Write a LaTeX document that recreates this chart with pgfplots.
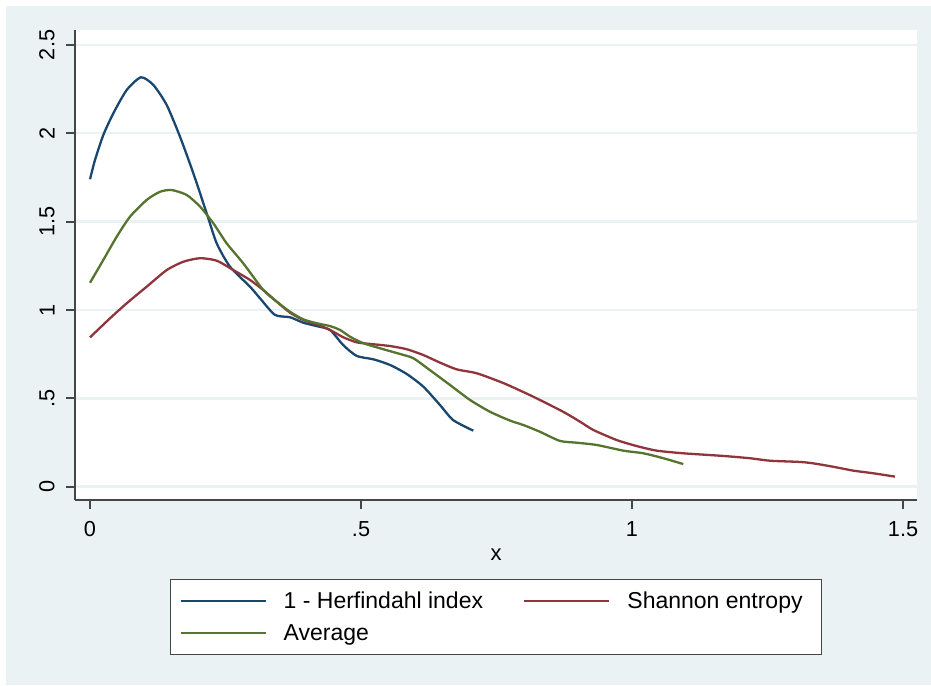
\documentclass[border=0pt]{standalone}
\usepackage{fontspec}
\setmainfont{Liberation Sans}
\usepackage{pgfplots}
\pgfplotsset{compat=1.18}
\definecolor{bg}{RGB}{234,242,243}
\definecolor{gridc}{RGB}{234,242,243}
\definecolor{sblue}{RGB}{26,71,111}
\definecolor{sred}{RGB}{144,53,59}
\definecolor{sgreen}{RGB}{85,117,47}
\definecolor{axc}{RGB}{70,70,70}
\begin{document}
\begin{tikzpicture}
\fill[white] (0pt,0pt) rectangle (465.5pt,342.5pt);
\fill[bg] (3pt,0pt) rectangle (465.5pt,339.5pt);
\begin{axis}[
  at={(37.5pt,92.5pt)}, anchor=south west,
  scale only axis, width=421pt, height=235pt,
  xmin=-0.0277, xmax=1.5258, ymin=-0.0753, ymax=2.5846,
  axis x line*=bottom, axis y line*=left,
  axis line style={axc, line width=0.9pt},
  axis background/.style={fill=white},
  xtick={0,0.5,1,1.5}, xticklabels={0,.5,1,1.5},
  ytick={0,0.5,1,1.5,2,2.5}, yticklabels={0,.5,1,1.5,2,2.5},
  tick align=outside, major tick length=4.5pt,
  tick style={axc, line width=0.9pt},
  ymajorgrids, grid style={gridc, line width=1.2pt},
  /pgf/number format/assume math mode=true,
  tick label style={font=\fontsize{10.85pt}{12pt}\selectfont},
  yticklabel style={xshift=-5.5pt, rotate=90, anchor=south, inner sep=0pt},
  xticklabel style={anchor=north, inner sep=0pt, yshift=-6pt},
  xlabel={x},
  xlabel style={at={(axis description cs:0.5,0)}, anchor=base, yshift=-30pt, font=\fontsize{11pt}{13pt}\selectfont},
  legend columns=2,
  legend image code/.code={\path[draw=none,fill=none] (0pt,0pt) rectangle (0.01pt,5pt); \draw[#1] (0pt,0pt) -- (42.5pt,0pt);},
  legend style={at={(axis description cs:0.5,-0.168)}, anchor=north,
    draw=axc, line width=0.6pt, fill=white,
    font=\fontsize{11.5pt}{13pt}\selectfont,
    inner xsep=4.5pt, inner ysep=4.25pt,
    row sep=3pt,
    nodes={inner sep=0pt, text height=10pt, text depth=3pt},
    /tikz/every odd column/.append style={column sep=8.5pt},
    /tikz/every even column/.append style={column sep=20pt}},
  legend cell align=left,
  every axis plot/.append style={line width=1.15pt, smooth, tension=0.4},
]
\addplot[sblue] coordinates {
(0,1.740) (0.0092,1.849) (0.0245,1.990) (0.043,2.113) (0.0677,2.245) (0.094,2.317)
(0.117,2.273) (0.1415,2.160) (0.166,1.981) (0.1906,1.774) (0.2153,1.547) (0.2338,1.377)
(0.2583,1.245) (0.2952,1.132) (0.3137,1.066) (0.3413,0.972) (0.369,0.959) (0.3935,0.928)
(0.418,0.909) (0.4428,0.887) (0.467,0.802) (0.492,0.740) (0.5227,0.721) (0.5535,0.689)
(0.5843,0.638) (0.615,0.566) (0.6458,0.462) (0.670,0.377) (0.7072,0.317)
};
\addlegendentry{1 - Herfindahl index}
\addplot[sred] coordinates {
(0,0.845) (0.0369,0.953) (0.0677,1.038) (0.1046,1.132) (0.1415,1.226) (0.172,1.273)
(0.203,1.293) (0.2338,1.279) (0.2644,1.226) (0.2952,1.170) (0.3197,1.113) (0.3445,1.047)
(0.369,0.985) (0.3935,0.943) (0.418,0.919) (0.4428,0.887) (0.467,0.846) (0.492,0.817)
(0.5166,0.808) (0.5535,0.796) (0.5843,0.778) (0.615,0.745) (0.6458,0.702) (0.6766,0.664)
(0.7135,0.642) (0.7565,0.594) (0.775,0.570) (0.818,0.509) (0.873,0.424) (0.904,0.368)
(0.9286,0.321) (0.9718,0.264) (1.0087,0.230) (1.0456,0.204) (1.0946,0.189) (1.1685,0.174)
(1.2177,0.161) (1.2546,0.147) (1.31,0.140) (1.3345,0.132) (1.371,0.113) (1.408,0.091)
(1.445,0.076) (1.485,0.057)
};
\addlegendentry{Shannon entropy\kern5pt}
\addplot[sgreen] coordinates {
(0,1.154) (0.0245,1.283) (0.0493,1.415) (0.0738,1.528) (0.1046,1.623) (0.129,1.669)
(0.1507,1.679) (0.1784,1.651) (0.203,1.585) (0.2275,1.491) (0.2522,1.377) (0.2828,1.264)
(0.3197,1.113) (0.3445,1.047) (0.369,0.990) (0.3935,0.947) (0.418,0.925) (0.4428,0.909)
(0.4613,0.887) (0.4797,0.849) (0.5043,0.812) (0.541,0.778) (0.572,0.751) (0.5965,0.727)
(0.627,0.660) (0.664,0.576) (0.701,0.491) (0.738,0.424) (0.775,0.374) (0.7995,0.349)
(0.830,0.311) (0.867,0.259) (0.898,0.249) (0.935,0.236) (0.984,0.204) (1.021,0.189)
(1.058,0.161) (1.0946,0.128)
};
\addlegendentry{Average}
\end{axis}
\end{tikzpicture}
\end{document}
